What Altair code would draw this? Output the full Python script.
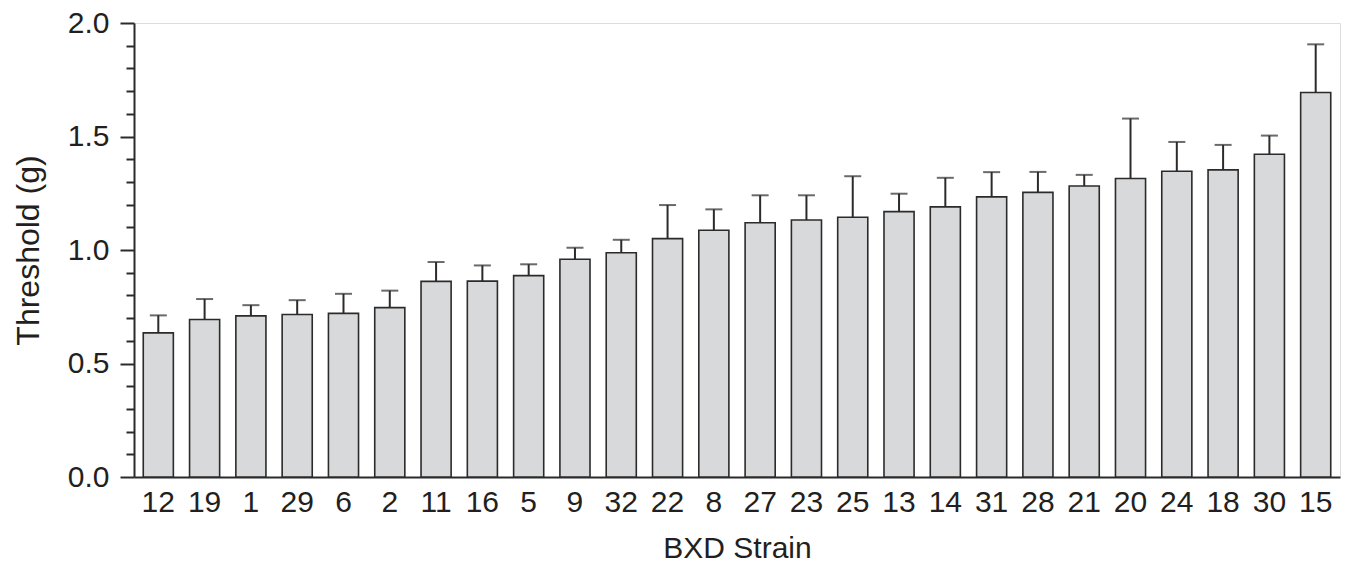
import altair as alt
import pandas as pd

strains = ["12", "19", "1", "29", "6", "2", "11", "16", "5", "9", "32", "22", "8",
           "27", "23", "25", "13", "14", "31", "28", "21", "20", "24", "18", "30", "15"]
means = [0.635, 0.694, 0.710, 0.716, 0.721, 0.746, 0.862, 0.863, 0.887, 0.959, 0.988,
         1.050, 1.087, 1.120, 1.132, 1.144, 1.169, 1.190, 1.234, 1.254, 1.282, 1.315,
         1.347, 1.353, 1.422, 1.694]
upper = [0.712, 0.784, 0.757, 0.779, 0.807, 0.821, 0.947, 0.932, 0.937, 1.010, 1.045,
         1.198, 1.179, 1.241, 1.241, 1.325, 1.248, 1.318, 1.343, 1.344, 1.331, 1.579,
         1.476, 1.463, 1.504, 1.906]
major_ticks = [0.0, 0.5, 1.0, 1.5, 2.0]
minor_ticks = [0.1, 0.2, 0.3, 0.4, 0.6, 0.7, 0.8, 0.9, 1.1, 1.2, 1.3, 1.4, 1.6, 1.7, 1.8, 1.9]

df = pd.DataFrame({"strain": strains, "mean": means, "upper": upper})

TXT = "#231f20"
LINE = "#2b2b2b"

x_enc = alt.X(
    "strain:N", sort=strains,
    scale=alt.Scale(paddingInner=0.35, paddingOuter=0.2),
    axis=alt.Axis(title="BXD Strain", ticks=False, tickSize=0, labelAngle=0,
                  labelFont="Liberation Sans Narrow, Arial Narrow, Liberation Sans",
                  labelFontSize=30, labelColor=TXT, labelPadding=10,
                  titleFont="Liberation Sans", titleFontSize=30, titleFontWeight="normal",
                  titleColor=TXT, titlePadding=16, domainColor=LINE, domainWidth=2),
)
yscale = alt.Scale(domain=[0, 2], nice=False, zero=True)

bars = alt.Chart(df).mark_bar(fill="#d8d9db", stroke=LINE, strokeWidth=1.6).encode(
    x=x_enc,
    y=alt.Y("mean:Q", scale=yscale,
            axis=alt.Axis(values=major_ticks, format=".1f", tickSize=14, tickWidth=2,
                          tickColor=LINE, domainColor=LINE, domainWidth=2, grid=False,
                          labelFont="Liberation Sans", labelFontSize=30, labelColor=TXT,
                          labelPadding=11, title="Threshold (g)", titleFont="Liberation Sans",
                          titleFontSize=32, titleFontWeight="normal", titleColor=TXT,
                          titlePadding=22, orient="left")),
)

err = alt.Chart(df).mark_rule(color=LINE, strokeWidth=2).encode(
    x=x_enc,
    y=alt.Y("upper:Q", scale=yscale,
            axis=alt.Axis(values=minor_ticks, tickSize=8, tickWidth=2, tickColor=LINE,
                          labels=False, domain=False, grid=False, title=None, orient="left")),
    y2="mean:Q",
)

caps = alt.Chart(df).mark_tick(color=LINE, thickness=2, size=17, orient="horizontal").encode(
    x=x_enc,
    y=alt.Y("upper:Q", scale=yscale, axis=None),
)

chart = alt.layer(bars, err, caps).resolve_axis(y="independent").properties(
    width=1206, height=454,
    autosize=alt.AutoSizeParams(type="none"),
    padding={"left": 134, "top": 23, "right": 10, "bottom": 89},
).configure_view(stroke=None).configure(background="white")

chart.save("out.html", embed_options={"renderer": "svg", "actions": False})
